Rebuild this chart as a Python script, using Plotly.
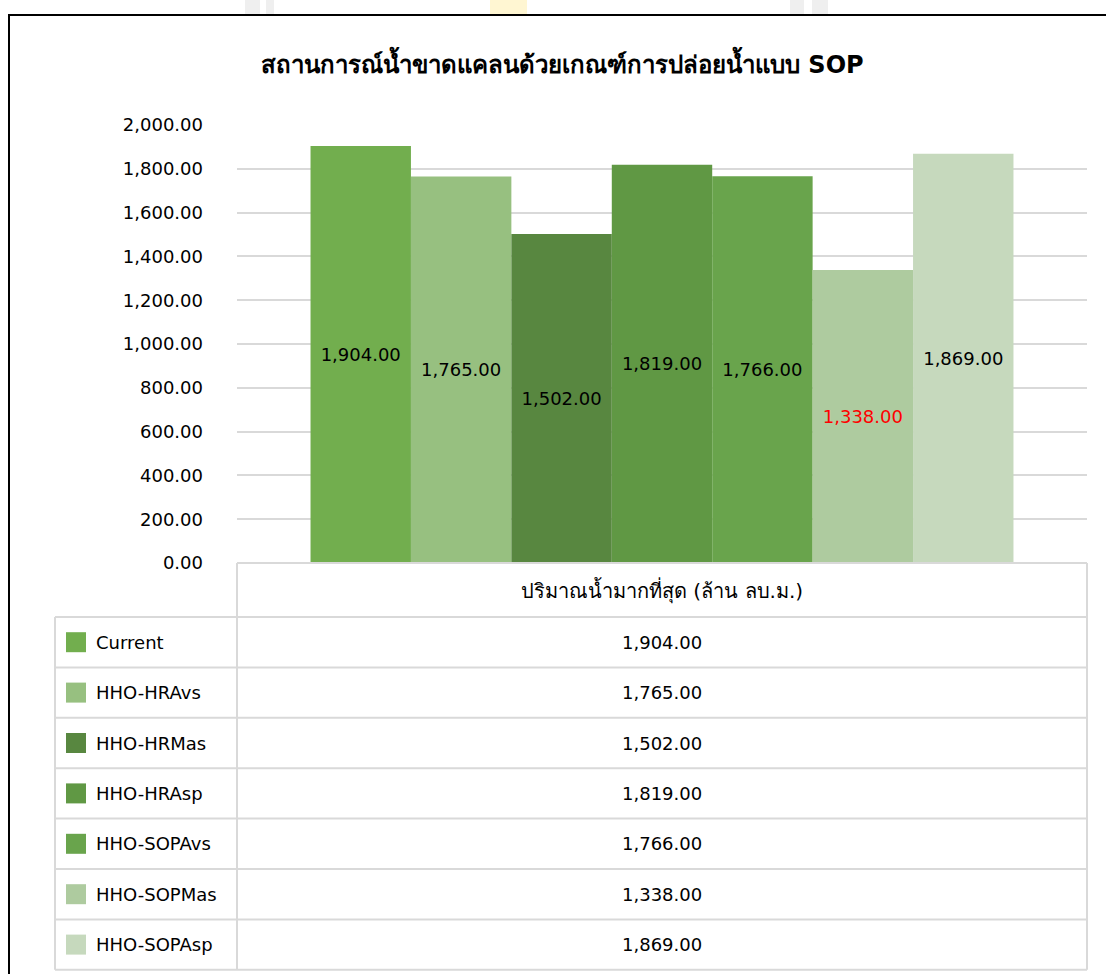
import plotly.graph_objects as go

# ---- data ----
category = "ปริมาณน้ำมากที่สุด (ล้าน ลบ.ม.)"
series_names = ["Current", "HHO-HRAvs", "HHO-HRMas", "HHO-HRAsp",
                "HHO-SOPAvs", "HHO-SOPMas", "HHO-SOPAsp"]
series_values = [1904, 1765, 1502, 1819, 1766, 1338, 1869]
series_colors = ["#72ae4e", "#97c080", "#588740", "#609844",
                 "#69a44c", "#aecb9f", "#c6d9bd"]
label_colors = ["black", "black", "black", "black", "black", "red", "black"]
y_ticks = [0, 200, 400, 600, 800, 1000, 1200, 1400, 1600, 1800, 2000]
title_text = "สถานการณ์น้ำขาดแคลนด้วยเกณฑ์การปล่อยน้ำแบบ SOP"

W, H = 1106, 974
FONT = "DejaVu Sans, Noto Sans, sans-serif"


def X(px):
    return px / W


def Y(py):
    return 1 - py / H


# plot area in pixels
PL, PR, PT, PB = 237, 1087, 125, 563
# data table geometry
T_LEFT, HEAD_H, ROW_H = 55, 54, 50.4
GRID = "#d9d9d9"

fig = go.Figure()
for name, val, col, lcol in zip(series_names, series_values, series_colors, label_colors):
    fig.add_trace(go.Bar(
        name=name, x=[category], y=[val],
        marker=dict(color=col, line=dict(width=0)),
        texttemplate="%{y:,.2f}", textposition="inside",
        insidetextanchor="middle", textangle=0,
        textfont=dict(family=FONT, size=18, color=lcol),
        showlegend=False,
    ))

shapes = []
annotations = []

# faint page marks above the chart frame
for x0, x1, c in [(245, 260, "#efefef"), (266, 274, "#efefef"),
                  (490, 527, "#fff6d2"),
                  (790, 804, "#efefef"), (812, 828, "#efefef")]:
    shapes.append(dict(type="rect", xref="paper", yref="paper",
                       x0=X(x0), x1=X(x1), y0=Y(14), y1=Y(0),
                       fillcolor=c, line=dict(width=0), layer="below"))

# chart frame
shapes.append(dict(type="rect", xref="paper", yref="paper",
                   x0=X(9), x1=X(1112), y0=Y(990), y1=Y(15),
                   line=dict(color="black", width=2), layer="below"))

# data table lines
row_tops = [PB + HEAD_H + i * ROW_H for i in range(len(series_names) + 1)]
t_bottom = row_tops[-1]
shapes.append(dict(type="line", xref="paper", yref="paper",
                   x0=X(PL), x1=X(PR), y0=Y(PB), y1=Y(PB),
                   line=dict(color=GRID, width=2)))
for yt in row_tops:
    shapes.append(dict(type="line", xref="paper", yref="paper",
                       x0=X(T_LEFT), x1=X(PR), y0=Y(yt), y1=Y(yt),
                       line=dict(color=GRID, width=2)))
shapes.append(dict(type="line", xref="paper", yref="paper",
                   x0=X(T_LEFT), x1=X(T_LEFT), y0=Y(row_tops[0]), y1=Y(t_bottom),
                   line=dict(color=GRID, width=2)))
for xv in (PL, PR):
    shapes.append(dict(type="line", xref="paper", yref="paper",
                       x0=X(xv), x1=X(xv), y0=Y(PB), y1=Y(t_bottom),
                       line=dict(color=GRID, width=2)))

# header text
annotations.append(dict(xref="paper", yref="paper", x=X((PL + PR) / 2),
                        y=Y(PB + HEAD_H / 2), text=category, showarrow=False,
                        xanchor="center", yanchor="middle",
                        font=dict(family=FONT, size=20, color="black")))

# table rows: legend key, series name, value
for i, (name, val, col) in enumerate(zip(series_names, series_values, series_colors)):
    yc = row_tops[i] + ROW_H / 2
    shapes.append(dict(type="rect", xref="paper", yref="paper",
                       x0=X(66), x1=X(86), y0=Y(yc + 10), y1=Y(yc - 10),
                       fillcolor=col, line=dict(width=0)))
    annotations.append(dict(xref="paper", yref="paper", x=X(94), y=Y(yc),
                            text=name, showarrow=False, xanchor="left",
                            yanchor="middle",
                            font=dict(family=FONT, size=18, color="black")))
    annotations.append(dict(xref="paper", yref="paper", x=X((PL + PR) / 2),
                            y=Y(yc), text=f"{val:,.2f}", showarrow=False,
                            xanchor="center", yanchor="middle",
                            font=dict(family=FONT, size=18, color="black")))

# title
annotations.append(dict(xref="paper", yref="paper", x=X(562), y=Y(62),
                        text=f"<b>{title_text}</b>", showarrow=False,
                        xanchor="center", yanchor="middle",
                        font=dict(family=FONT, size=24, color="black")))

fig.update_layout(
    width=W, height=H,
    margin=dict(l=0, r=0, t=0, b=0, pad=0, autoexpand=False),
    paper_bgcolor="white", plot_bgcolor="white",
    barmode="group", bargap=0.173, bargroupgap=0,
    font=dict(family=FONT, size=18, color="black"),
    xaxis=dict(domain=[X(PL), X(PR)], showticklabels=False, showgrid=False,
               zeroline=False, showline=False, ticks="", automargin=False),
    yaxis=dict(domain=[Y(PB), Y(PT)], range=[0, 2000], tickvals=y_ticks,
               tickformat=",.2f", showgrid=True, gridcolor=GRID, gridwidth=2,
               zeroline=False, showline=False, ticks="", ticklabelstandoff=33,
               automargin=False,
               tickfont=dict(family=FONT, size=18, color="black")),
    shapes=shapes, annotations=annotations,
)

fig.write_html("out.html")
